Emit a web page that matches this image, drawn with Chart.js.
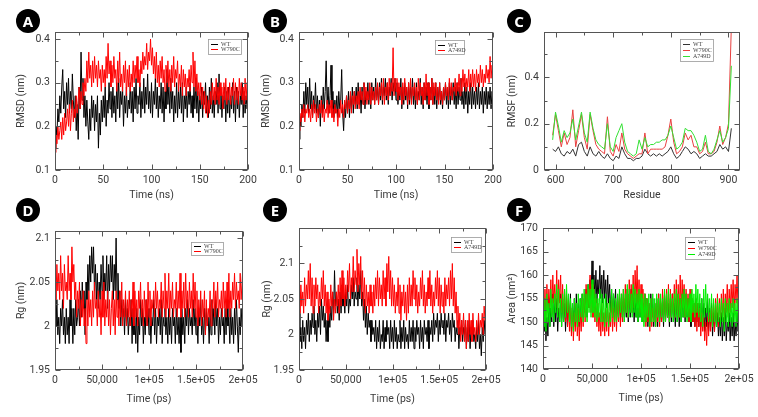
<!DOCTYPE html>
<html><head><meta charset="utf-8">
<script src="https://cdn.jsdelivr.net/npm/chart.js@4.4.1/dist/chart.umd.min.js"></script>
<style>
html,body{margin:0;padding:0;background:#fff}
#wrap{position:relative;width:758px;height:417px;overflow:hidden;background:#fff}
canvas.pc{position:absolute;left:0;top:0}
.lab{position:absolute;width:24px;height:24px;border-radius:50%;background:#000;color:#fff;font:bold 15px "Noto Sans",Arial,sans-serif;text-align:center;line-height:24px}
</style></head>
<body><div id="wrap">
<canvas id="cA" class="pc" width="758" height="417"></canvas>
<canvas id="cB" class="pc" width="758" height="417"></canvas>
<canvas id="cC" class="pc" width="758" height="417"></canvas>
<canvas id="cD" class="pc" width="758" height="417"></canvas>
<canvas id="cE" class="pc" width="758" height="417"></canvas>
<canvas id="cF" class="pc" width="758" height="417"></canvas>
<div class="lab" style="left:16px;top:9px">A</div>
<div class="lab" style="left:263px;top:9px">B</div>
<div class="lab" style="left:507px;top:9px">C</div>
<div class="lab" style="left:16px;top:198px">D</div>
<div class="lab" style="left:263px;top:198px">E</div>
<div class="lab" style="left:507px;top:198px">F</div>
</div>
<script>
// ---------- DATA ----------
const STEP_NS = 1;        // sampling interval of RMSD traces (ns)
const STEP_PS = 1000;     // sampling interval of Rg / SASA traces (ps)
const RES_START = 595, RES_STEP = 5;

// A: RMSD WT vs W790C (0..200 ns)
const rmsdA_WT = [
 0.15,0.20,0.18,0.24,0.21,0.27,0.23,0.29,0.33,0.24,0.28,0.22,0.30,0.25,0.31,0.23,0.28,0.24,0.32,0.26,
 0.22,0.27,0.19,0.25,0.17,0.29,0.24,0.37,0.26,0.31,0.22,0.27,0.20,0.26,0.21,0.17,0.24,0.19,0.27,0.22,
 0.26,0.19,0.25,0.21,0.27,0.15,0.23,0.18,0.26,0.21,0.27,0.22,0.29,0.20,0.26,0.23,0.30,0.24,0.28,0.22,
 0.29,0.23,0.27,0.21,0.30,0.24,0.31,0.22,0.28,0.25,0.29,0.20,0.27,0.23,0.29,0.22,0.26,0.24,0.30,0.23,
 0.28,0.21,0.29,0.24,0.31,0.23,0.27,0.25,0.30,0.22,0.28,0.24,0.31,0.23,0.29,0.25,0.32,0.24,0.28,0.23,
 0.30,0.22,0.28,0.25,0.31,0.24,0.29,0.22,0.27,0.24,0.30,0.23,0.29,0.21,0.28,0.24,0.33,0.25,0.29,0.23,
 0.31,0.24,0.28,0.21,0.27,0.23,0.30,0.22,0.28,0.24,0.29,0.23,0.30,0.21,0.27,0.24,0.29,0.22,0.28,0.25,
 0.30,0.23,0.27,0.22,0.29,0.24,0.31,0.23,0.28,0.21,0.27,0.24,0.29,0.22,0.28,0.25,0.30,0.23,0.27,0.22,
 0.29,0.24,0.31,0.23,0.27,0.22,0.28,0.25,0.30,0.23,0.32,0.24,0.28,0.22,0.27,0.24,0.29,0.21,0.28,0.23,
 0.29,0.22,0.27,0.24,0.30,0.23,0.28,0.21,0.29,0.24,0.28,0.22,0.27,0.25,0.30,0.22,0.28,0.23,0.27,0.24,
 0.26];
const rmsdA_W790C = [
 0.14,0.18,0.16,0.20,0.17,0.19,0.21,0.17,0.22,0.18,0.23,0.19,0.21,0.24,0.20,0.25,0.19,0.23,0.26,0.21,
 0.24,0.22,0.27,0.23,0.26,0.29,0.24,0.28,0.25,0.30,0.27,0.31,0.28,0.35,0.30,0.37,0.31,0.34,0.29,0.35,
 0.30,0.36,0.31,0.34,0.29,0.35,0.31,0.33,0.28,0.34,0.30,0.33,0.29,0.36,0.31,0.39,0.32,0.35,0.29,0.34,
 0.30,0.36,0.31,0.33,0.28,0.35,0.30,0.37,0.29,0.32,0.28,0.34,0.30,0.35,0.27,0.33,0.29,0.34,0.28,0.32,
 0.29,0.35,0.30,0.34,0.31,0.36,0.30,0.33,0.29,0.35,0.32,0.37,0.33,0.36,0.34,0.39,0.33,0.37,0.35,0.40,
 0.34,0.38,0.32,0.36,0.31,0.37,0.30,0.34,0.29,0.35,0.31,0.36,0.30,0.33,0.28,0.34,0.30,0.35,0.29,0.33,
 0.28,0.34,0.30,0.36,0.29,0.33,0.31,0.35,0.28,0.32,0.29,0.34,0.27,0.33,0.29,0.32,0.27,0.31,0.29,0.33,
 0.28,0.34,0.30,0.37,0.29,0.35,0.28,0.32,0.27,0.30,0.26,0.30,0.25,0.29,0.24,0.28,0.23,0.27,0.22,0.26,
 0.23,0.28,0.25,0.30,0.26,0.29,0.25,0.31,0.26,0.29,0.25,0.30,0.27,0.29,0.24,0.30,0.26,0.31,0.25,0.29,
 0.26,0.30,0.25,0.29,0.27,0.31,0.25,0.30,0.26,0.29,0.25,0.31,0.27,0.30,0.26,0.29,0.25,0.31,0.26,0.30,
 0.28];

// B: RMSD WT vs A749D (0..200 ns)
const rmsdB_WT = [
 0.17,0.22,0.20,0.25,0.22,0.28,0.23,0.30,0.25,0.29,0.23,0.31,0.24,0.28,0.22,0.27,0.24,0.30,0.23,0.27,
 0.22,0.26,0.20,0.27,0.23,0.29,0.24,0.28,0.35,0.25,0.29,0.23,0.27,0.34,0.24,0.28,0.22,0.26,0.23,0.27,
 0.22,0.28,0.24,0.26,0.33,0.23,0.19,0.25,0.22,0.27,0.23,0.28,0.22,0.27,0.24,0.29,0.23,0.28,0.25,0.29,
 0.24,0.30,0.25,0.28,0.23,0.29,0.25,0.30,0.24,0.28,0.26,0.30,0.25,0.29,0.24,0.30,0.26,0.29,0.25,0.31,
 0.26,0.29,0.25,0.30,0.26,0.31,0.25,0.29,0.27,0.31,0.26,0.30,0.25,0.29,0.27,0.31,0.26,0.30,0.28,0.31,
 0.26,0.30,0.25,0.29,0.26,0.31,0.24,0.29,0.25,0.30,0.26,0.29,0.24,0.30,0.25,0.29,0.26,0.31,0.25,0.29,
 0.24,0.30,0.25,0.28,0.26,0.31,0.25,0.29,0.24,0.30,0.26,0.29,0.25,0.30,0.24,0.29,0.26,0.31,0.25,0.29,
 0.25,0.30,0.24,0.29,0.26,0.30,0.25,0.28,0.24,0.29,0.26,0.30,0.25,0.29,0.24,0.30,0.25,0.29,0.26,0.30,
 0.25,0.29,0.24,0.30,0.25,0.29,0.26,0.31,0.25,0.28,0.24,0.30,0.25,0.29,0.23,0.28,0.25,0.30,0.24,0.29,
 0.25,0.28,0.24,0.29,0.25,0.30,0.24,0.28,0.25,0.29,0.23,0.28,0.25,0.29,0.24,0.28,0.25,0.29,0.24,0.28,
 0.26];
const rmsdB_A749D = [
 0.19,0.23,0.21,0.24,0.22,0.25,0.21,0.24,0.23,0.25,0.22,0.24,0.21,0.25,0.22,0.26,0.23,0.25,0.21,0.24,
 0.22,0.25,0.23,0.26,0.22,0.25,0.21,0.24,0.23,0.26,0.22,0.25,0.23,0.26,0.22,0.24,0.21,0.25,0.23,0.24,
 0.20,0.24,0.22,0.26,0.23,0.25,0.22,0.26,0.24,0.27,0.23,0.26,0.24,0.28,0.23,0.27,0.25,0.28,0.24,0.27,
 0.25,0.28,0.24,0.29,0.26,0.28,0.25,0.30,0.26,0.29,0.25,0.28,0.26,0.30,0.25,0.29,0.26,0.28,0.25,0.29,
 0.26,0.30,0.25,0.29,0.27,0.30,0.26,0.31,0.25,0.29,0.27,0.30,0.26,0.31,0.27,0.30,0.28,0.38,0.27,0.31,
 0.28,0.31,0.26,0.30,0.27,0.29,0.25,0.30,0.26,0.31,0.27,0.29,0.25,0.30,0.26,0.31,0.25,0.29,0.27,0.30,
 0.26,0.29,0.25,0.31,0.26,0.30,0.27,0.29,0.25,0.30,0.26,0.32,0.27,0.30,0.25,0.29,0.26,0.31,0.25,0.30,
 0.27,0.30,0.26,0.29,0.25,0.30,0.26,0.28,0.25,0.29,0.26,0.30,0.27,0.29,0.26,0.31,0.27,0.30,0.26,0.29,
 0.28,0.31,0.27,0.30,0.28,0.32,0.27,0.31,0.28,0.33,0.29,0.32,0.28,0.31,0.29,0.33,0.28,0.32,0.29,0.33,
 0.29,0.32,0.28,0.33,0.30,0.32,0.29,0.34,0.30,0.33,0.29,0.32,0.30,0.34,0.31,0.33,0.30,0.36,0.31,0.34,
 0.32];

// C: RMSF per residue (595..905, every 5th residue)
const rmsf_WT = [0.09,0.08,0.10,0.07,0.06,0.08,0.07,0.09,0.06,0.11,
 0.12,0.08,0.06,0.10,0.07,0.06,0.08,0.06,0.05,0.07,
 0.05,0.04,0.06,0.05,0.10,0.07,0.05,0.05,0.04,0.05,
 0.05,0.06,0.09,0.07,0.06,0.07,0.06,0.07,0.06,0.07,
 0.08,0.10,0.07,0.05,0.06,0.08,0.10,0.09,0.07,0.08,
 0.07,0.05,0.06,0.07,0.06,0.06,0.07,0.08,0.11,0.09,
 0.10,0.08,0.18];
const rmsf_W790C = [0.15,0.24,0.17,0.10,0.16,0.11,0.14,0.26,0.10,0.17,
 0.24,0.14,0.09,0.24,0.17,0.11,0.09,0.08,0.07,0.23,
 0.08,0.06,0.11,0.08,0.16,0.09,0.07,0.06,0.05,0.06,
 0.07,0.07,0.16,0.07,0.09,0.09,0.09,0.09,0.09,0.10,
 0.15,0.22,0.12,0.07,0.08,0.10,0.16,0.13,0.15,0.10,
 0.10,0.07,0.08,0.12,0.07,0.07,0.08,0.12,0.19,0.11,
 0.14,0.20,0.62];
const rmsf_A749D = [0.13,0.25,0.19,0.12,0.17,0.14,0.16,0.22,0.13,0.19,
 0.25,0.16,0.12,0.25,0.18,0.13,0.11,0.10,0.09,0.20,
 0.10,0.08,0.14,0.17,0.20,0.12,0.08,0.07,0.06,0.07,
 0.13,0.09,0.14,0.10,0.11,0.11,0.12,0.12,0.13,0.13,
 0.15,0.19,0.14,0.09,0.10,0.12,0.18,0.17,0.17,0.15,
 0.12,0.08,0.09,0.15,0.08,0.07,0.09,0.13,0.17,0.12,
 0.14,0.18,0.45];

// D: Rg WT vs W790C (0..200000 ps)
const rgD_WT = [
 2.02,2.00,2.03,1.99,2.01,1.98,2.02,2.00,2.03,1.99,2.01,1.98,2.02,1.99,2.01,1.98,2.03,2.00,2.02,1.98,
 2.02,1.99,2.03,2.00,2.01,2.03,2.00,2.04,2.01,2.05,2.02,2.04,1.99,2.05,2.03,2.07,2.04,2.08,2.05,2.09,
 2.06,2.09,2.04,2.07,2.03,2.06,2.02,2.05,2.03,2.07,2.04,2.08,2.03,2.06,2.04,2.08,2.02,2.07,2.04,2.08,
 2.05,2.08,2.03,2.07,2.04,2.10,2.03,2.06,2.02,2.04,2.00,2.03,2.01,2.02,1.99,2.03,2.00,2.02,1.99,2.01,
 2.00,2.03,1.98,2.02,1.99,2.01,1.98,2.02,1.97,2.01,1.99,2.03,2.00,2.02,1.98,2.01,1.99,2.03,2.00,2.02,
 1.99,2.02,1.98,2.01,2.00,2.03,1.99,2.02,1.98,2.01,2.00,2.02,1.99,2.03,1.98,2.01,2.00,2.02,1.99,2.01,
 1.98,2.02,1.99,2.01,1.98,2.02,2.00,2.01,1.98,2.02,1.99,2.01,1.98,2.01,1.97,2.02,1.99,2.01,1.98,2.02,
 2.00,2.03,1.99,2.02,2.00,2.01,1.99,2.03,2.00,2.02,1.99,2.01,1.98,2.02,2.00,2.03,1.99,2.01,1.98,2.02,
 1.99,2.02,2.00,2.01,1.98,2.02,1.99,2.03,2.00,2.02,1.99,2.03,2.00,2.02,1.98,2.01,1.99,2.02,2.00,2.01,
 1.98,2.02,1.99,2.03,2.00,2.01,1.98,2.02,1.99,2.01,1.98,2.02,1.99,2.03,2.00,1.97,2.01,1.99,2.02,2.00,
 2.02];
const rgD_W790C = [
 2.05,2.03,2.07,2.04,2.06,2.03,2.08,2.04,2.06,2.02,2.07,2.04,2.05,2.03,2.08,2.04,2.06,2.03,2.09,2.05,
 2.07,2.03,2.05,2.01,2.04,2.02,2.05,2.00,2.03,2.01,2.04,2.00,2.02,1.98,2.03,2.00,2.04,2.01,2.03,2.00,
 2.04,2.01,2.05,2.02,2.03,2.00,2.04,2.01,2.03,1.99,2.04,2.01,2.05,2.00,2.03,2.01,2.04,2.00,2.03,1.99,
 2.02,2.04,2.00,2.03,1.99,2.04,2.01,2.03,2.00,2.04,2.01,2.05,2.00,2.03,2.01,2.04,2.00,2.03,2.01,2.04,
 2.00,2.03,2.01,2.05,2.00,2.04,2.01,2.03,2.00,2.04,2.02,2.05,2.01,2.03,2.00,2.04,2.01,2.03,2.00,2.05,
 2.01,2.04,2.00,2.03,2.02,2.04,2.01,2.05,2.02,2.04,2.01,2.03,2.02,2.05,2.01,2.04,2.02,2.06,2.01,2.04,
 2.02,2.06,2.01,2.04,2.02,2.05,2.01,2.03,2.02,2.05,2.01,2.04,2.02,2.06,2.01,2.04,2.02,2.05,2.01,2.06,
 2.02,2.04,2.01,2.05,2.02,2.04,2.01,2.06,2.02,2.05,2.01,2.04,2.00,2.03,2.01,2.04,2.00,2.03,2.01,2.04,
 1.99,2.03,2.00,2.02,2.01,2.04,2.00,2.03,2.02,2.05,2.01,2.04,2.02,2.05,2.01,2.03,2.02,2.04,2.01,2.05,
 2.02,2.04,2.01,2.05,2.02,2.06,2.01,2.04,2.02,2.05,2.03,2.06,2.02,2.05,2.03,2.04,2.02,2.06,2.03,2.05,
 2.07];

// E: Rg WT vs A749D (0..200000 ps)
const rgE_WT = [
 2.03,1.99,2.01,1.98,2.02,1.99,2.01,1.98,2.02,2.00,2.03,1.99,2.02,2.00,2.03,2.01,2.04,2.00,2.02,1.99,
 2.03,2.01,2.04,2.00,2.05,2.02,2.04,2.01,2.03,1.99,2.02,1.99,2.03,2.01,2.04,2.02,2.06,2.03,2.09,2.04,
 2.06,2.03,2.05,2.02,2.06,2.03,2.07,2.04,2.05,2.03,2.06,2.04,2.07,2.03,2.05,2.04,2.07,2.05,2.08,2.04,
 2.06,2.05,2.08,2.04,2.07,2.05,2.09,2.04,2.06,2.02,2.05,2.01,2.04,2.00,2.03,2.01,2.02,1.99,2.02,2.00,
 2.01,1.99,2.02,1.98,2.01,1.99,2.02,1.98,2.00,1.99,2.02,1.98,2.01,1.99,2.02,2.00,2.01,1.98,2.02,1.99,
 2.01,1.98,2.02,1.99,2.01,1.98,2.00,1.99,2.02,1.98,2.01,1.99,2.02,1.98,2.01,1.99,2.00,1.98,2.02,1.99,
 2.01,1.99,2.02,1.98,2.01,1.99,2.02,2.00,2.01,1.98,2.02,1.99,2.01,1.98,2.02,2.00,2.01,1.99,2.02,1.98,
 2.01,2.00,2.02,1.99,2.03,2.00,2.02,2.01,2.03,1.99,2.02,2.00,2.03,2.01,2.02,2.00,2.03,1.99,2.02,2.01,
 2.03,2.00,2.02,1.99,2.03,2.01,2.02,1.99,2.01,2.00,2.02,1.98,2.01,2.00,2.02,1.99,2.01,2.00,2.02,1.98,
 2.01,1.99,2.02,1.98,2.01,2.00,2.02,1.99,2.00,1.98,2.01,1.99,2.02,1.98,2.00,1.97,2.01,1.99,2.02,2.00,
 2.01];
const rgE_A749D = [
 2.06,2.03,2.07,2.04,2.06,2.03,2.08,2.04,2.07,2.05,2.09,2.05,2.10,2.04,2.08,2.03,2.07,2.04,2.08,2.05,
 2.07,2.03,2.06,2.04,2.08,2.05,2.09,2.04,2.07,2.03,2.06,2.02,2.05,2.03,2.07,2.04,2.06,2.02,2.05,2.03,
 2.06,2.04,2.07,2.03,2.08,2.04,2.09,2.05,2.08,2.04,2.07,2.05,2.09,2.06,2.10,2.05,2.08,2.06,2.11,2.06,
 2.09,2.07,2.12,2.06,2.10,2.07,2.11,2.05,2.09,2.04,2.08,2.03,2.07,2.04,2.06,2.03,2.07,2.04,2.06,2.03,
 2.07,2.04,2.08,2.05,2.09,2.04,2.08,2.05,2.07,2.04,2.09,2.05,2.08,2.04,2.10,2.06,2.11,2.05,2.09,2.04,
 2.08,2.04,2.07,2.03,2.06,2.04,2.08,2.03,2.07,2.02,2.06,2.04,2.07,2.03,2.06,2.02,2.07,2.03,2.08,2.04,
 2.07,2.04,2.09,2.05,2.08,2.04,2.07,2.03,2.06,2.04,2.08,2.05,2.09,2.04,2.07,2.03,2.06,2.04,2.08,2.05,
 2.09,2.04,2.07,2.03,2.06,2.04,2.08,2.05,2.09,2.04,2.08,2.03,2.07,2.04,2.06,2.03,2.08,2.04,2.07,2.05,
 2.08,2.04,2.09,2.05,2.10,2.04,2.08,2.03,2.06,2.01,2.04,2.00,2.03,1.99,2.02,2.00,2.03,1.99,2.02,1.98,
 2.02,1.99,2.03,2.00,2.02,1.99,2.03,2.00,2.01,1.99,2.02,2.00,2.03,2.00,2.02,2.01,2.03,2.00,2.04,2.02,
 2.04];

// F: SASA (0..200000 ps)
const sasa_WT = [
 152,148,154,146,151,147,155,149,153,150,156,149,154,150,155,148,153,150,156,149,
 155,150,154,148,155,149,154,150,156,148,153,150,155,149,156,150,154,149,155,151,
 156,151,155,152,157,151,158,153,159,155,163,154,160,155,161,154,159,156,162,155,
 160,154,161,155,159,153,160,154,158,152,157,151,156,152,157,150,155,151,156,150,
 155,151,156,150,155,151,157,150,156,151,157,152,156,150,155,151,156,150,157,151,
 155,150,154,151,156,150,155,149,154,150,156,151,155,149,154,150,155,149,156,150,
 154,150,155,149,156,150,155,151,154,149,155,150,156,150,154,149,155,150,156,149,
 155,150,156,151,157,150,156,151,155,150,156,149,155,150,154,149,155,150,154,149,
 154,149,155,150,154,148,153,149,155,148,153,149,154,147,152,148,153,149,152,147,
 151,147,152,146,151,147,153,146,150,148,152,146,151,147,152,146,150,147,152,148,
 150];
const sasa_W790C = [
 155,150,157,151,158,152,157,153,159,152,160,154,158,153,161,152,159,154,160,152,
 158,151,157,150,156,149,155,148,154,147,153,146,152,148,154,147,153,146,152,148,
 155,149,156,150,158,152,157,153,160,152,158,151,157,150,155,149,154,148,152,147,
 154,148,152,147,153,148,154,147,152,149,155,148,153,149,154,148,155,150,156,149,
 156,150,157,151,158,152,157,151,159,153,158,152,160,153,161,154,162,153,159,152,
 158,151,157,150,156,149,155,150,154,148,155,149,153,150,154,149,155,150,156,149,
 155,150,157,151,156,150,157,151,158,150,157,151,156,152,158,151,159,152,158,151,
 160,152,159,153,158,151,157,152,156,150,157,151,155,150,154,149,155,148,154,149,
 153,147,152,148,151,146,150,145,151,147,152,148,153,149,154,148,155,150,156,149,
 155,150,156,151,157,150,156,152,158,151,157,152,158,153,159,152,158,154,160,153,
 159];
const sasa_A749D = [
 152,149,155,148,156,150,154,149,157,151,155,150,156,152,158,151,157,150,155,149,
 156,150,157,151,158,152,156,150,155,149,154,148,155,150,154,149,156,150,155,151,
 156,150,157,151,156,150,158,152,157,151,159,152,157,151,156,150,155,151,157,150,
 156,150,155,149,156,150,154,149,155,150,157,151,156,150,155,150,156,151,157,152,
 156,151,157,150,156,152,158,151,157,152,156,151,158,152,157,151,156,150,157,151,
 156,150,155,149,156,150,155,151,156,149,155,150,156,150,155,149,156,151,155,150,
 156,151,155,150,157,150,156,151,157,150,156,151,155,150,156,151,157,150,156,151,
 155,150,156,151,157,151,156,150,155,151,156,150,157,152,156,151,158,152,157,151,
 156,150,155,149,157,151,158,152,156,150,155,150,156,149,155,150,154,149,155,150,
 154,149,155,150,154,148,155,150,154,149,155,150,154,149,155,150,154,149,155,150,
 153];

// Tick values and labels
const nsTicks = [0, 50, 100, 150, 200];
const nsTickLabels = ['0', '50', '100', '150', '200'];
const psTicks = [0, 50000, 100000, 150000, 200000];
const psTickLabels = ['0', '50,000', '1e+05', '1.5e+05', '2e+05'];
const resTicks = [600, 700, 800, 900];
const resTickLabels = ['600', '700', '800', '900'];
const rmsdTicks = [0.1, 0.2, 0.3, 0.4];
const rmsdTickLabels = ['0.1', '0.2', '0.3', '0.4'];
const rmsfTicks = [0, 0.2, 0.4];
const rmsfTickLabels = ['0', '0.2', '0.4'];
const rgTicks = [1.95, 2, 2.05, 2.1];
const rgTickLabels = ['1.95', '2', '2.05', '2.1'];
const areaTicks = [140, 145, 150, 155, 160, 165, 170];
const areaTickLabels = ['140', '145', '150', '155', '160', '165', '170'];

// ---------- RENDERING ----------
const PAGE_W = 758, PAGE_H = 417;
const COL = {WT: '#000000', MUT: '#ff0000', A749D: '#00ee00'};
const COL_C = {WT: '#333333', W790C: '#e84040', A749D: '#33e033'};
const TXT = '#3a3a3a';
const FONT = 'Roboto, "Noto Sans", sans-serif';

const pts = (vals, x0, dx) => vals.map((v, i) => ({x: x0 + i * dx, y: v}));

const framePlugin = {
  id: 'frame',
  afterDatasetsDraw(chart, args, o) {
    const {ctx, chartArea: a, scales: {x, y}} = chart;
    ctx.save();
    ctx.strokeStyle = '#555'; ctx.lineWidth = 1;
    const L = Math.round(a.left) + 0.5, R = Math.round(a.right) - 0.5;
    const T = Math.round(a.top) + 0.5, B = Math.round(a.bottom) - 0.5;
    ctx.beginPath();
    const tick = (px, len, horiz) => {
      const p = Math.round(px) + 0.5;
      if (horiz) { ctx.moveTo(p, B); ctx.lineTo(p, B - len); ctx.moveTo(p, T); ctx.lineTo(p, T + len); }
      else { ctx.moveTo(L, p); ctx.lineTo(L + len, p); ctx.moveTo(R, p); ctx.lineTo(R - len, p); }
    };
    const doAxis = (sc, horiz) => {
      const v = sc.ticks.map(t => t.value);
      v.forEach(t => tick(sc.getPixelForValue(t), 5, horiz));
      for (let i = 0; i < v.length - 1; i++) tick(sc.getPixelForValue((v[i] + v[i + 1]) / 2), 3, horiz);
      const d = v[1] - v[0];
      [v[0] - d / 2, v[v.length - 1] + d / 2].forEach(m => { if (m > sc.min && m < sc.max) tick(sc.getPixelForValue(m), 3, horiz); });
    };
    doAxis(x, true); doAxis(y, false);
    ctx.stroke();
    ctx.strokeRect(L, T, R - L, B - T);
    // legend
    const lg = o.legend;
    const n = chart.data.datasets.length;
    const bx = Math.round(a.right - lg.gapR - lg.w), by = Math.round(a.top + lg.gapT);
    ctx.fillStyle = '#fff'; ctx.fillRect(bx, by, lg.w, lg.h);
    ctx.strokeStyle = '#999'; ctx.lineWidth = 0.8; ctx.strokeRect(bx + 0.5, by + 0.5, lg.w, lg.h);
    const rowH = (lg.h - 4) / n;
    ctx.font = '6px "Liberation Serif", serif'; ctx.textBaseline = 'middle';
    chart.data.datasets.forEach((ds, i) => {
      const ly = by + 2 + rowH * (i + 0.5);
      ctx.strokeStyle = ds.borderColor; ctx.lineWidth = 1;
      ctx.beginPath(); ctx.moveTo(bx + 3, Math.round(ly) + 0.5); ctx.lineTo(bx + 10, Math.round(ly) + 0.5); ctx.stroke();
      ctx.fillStyle = '#444'; ctx.fillText(ds.label, bx + 13, ly + 0.5);
    });
    ctx.restore();
  }
};

function panel(id, p) {
  const [L, R, T, B] = p.plot;
  new Chart(document.getElementById(id), {
    type: 'line',
    data: {datasets: p.datasets.map((d, i) => ({
      label: d.label, data: d.data, borderColor: d.color, borderWidth: 1,
      pointRadius: 0, tension: 0, fill: false, order: p.datasets.length - i
    }))},
    plugins: [framePlugin],
    options: {
      responsive: false, animation: false, devicePixelRatio: 1, events: [],
      layout: {padding: {left: L - p.yW, right: PAGE_W - R, top: T, bottom: PAGE_H - B - p.xH}},
      plugins: {legend: {display: false}, tooltip: {enabled: false}, frame: {legend: p.legend}},
      scales: {
        x: {
          type: 'linear', min: p.xMin, max: p.xMax,
          afterBuildTicks: s => { s.ticks = p.xTicks.map(v => ({value: v})); },
          afterFit: s => { s.height = p.xH; },
          grid: {display: false, drawTicks: false}, border: {display: false},
          ticks: {padding: 4, autoSkip: false, maxRotation: 0, minRotation: 0, color: TXT,
            font: {family: FONT, size: 10.5}, callback: (v, i) => p.xLabels[i]},
          title: {display: true, text: p.xTitle, color: TXT, padding: 0, font: {family: FONT, size: 10.5}}
        },
        y: {
          type: 'linear', min: p.yMin, max: p.yMax,
          afterBuildTicks: s => { s.ticks = p.yTicks.map(v => ({value: v})); },
          afterFit: s => { s.width = p.yW; },
          grid: {display: false, drawTicks: false}, border: {display: false},
          ticks: {padding: 5, autoSkip: false, color: TXT,
            font: {family: FONT, size: 10.5}, callback: (v, i) => p.yLabels[i]},
          title: {display: true, text: p.yTitle, color: TXT, padding: 0, font: {family: FONT, size: 10.5}}
        }
      }
    }
  });
}

panel('cA', {plot: [55, 248, 32, 170], yW: 40, xH: 32,
  xMin: 0, xMax: 200, xTicks: nsTicks, xLabels: nsTickLabels,
  yMin: 0.1, yMax: 0.416, yTicks: rmsdTicks, yLabels: rmsdTickLabels,
  xTitle: 'Time (ns)', yTitle: 'RMSD (nm)',
  legend: {gapR: 7, gapT: 7, w: 33, h: 15},
  datasets: [
    {label: 'WT', color: COL.WT, data: pts(rmsdA_WT, 0, STEP_NS)},
    {label: 'W790C', color: COL.MUT, data: pts(rmsdA_W790C, 0, STEP_NS)}]});

panel('cB', {plot: [299, 493, 32, 170], yW: 39, xH: 32,
  xMin: 0, xMax: 200, xTicks: nsTicks, xLabels: nsTickLabels,
  yMin: 0.1, yMax: 0.416, yTicks: rmsdTicks, yLabels: rmsdTickLabels,
  xTitle: 'Time (ns)', yTitle: 'RMSD (nm)',
  legend: {gapR: 29, gapT: 8, w: 29, h: 14},
  datasets: [
    {label: 'WT', color: COL.WT, data: pts(rmsdB_WT, 0, STEP_NS)},
    {label: 'A749D', color: COL.MUT, data: pts(rmsdB_A749D, 0, STEP_NS)}]});

panel('cC', {plot: [544, 740, 32, 170], yW: 38, xH: 32,
  xMin: 580, xMax: 920, xTicks: resTicks, xLabels: resTickLabels,
  yMin: 0, yMax: 0.596, yTicks: rmsfTicks, yLabels: rmsfTickLabels,
  xTitle: 'Residue', yTitle: 'RMSF (nm)',
  legend: {gapR: 27, gapT: 7, w: 33, h: 22},
  datasets: [
    {label: 'WT', color: COL_C.WT, data: pts(rmsf_WT, RES_START, RES_STEP)},
    {label: 'W790C', color: COL_C.W790C, data: pts(rmsf_W790C, RES_START, RES_STEP)},
    {label: 'A749D', color: COL_C.A749D, data: pts(rmsf_A749D, RES_START, RES_STEP)}]});

panel('cD', {plot: [55, 243, 231, 370], yW: 40, xH: 36,
  xMin: 0, xMax: 200000, xTicks: psTicks, xLabels: psTickLabels,
  yMin: 1.95, yMax: 2.108, yTicks: rgTicks, yLabels: rgTickLabels,
  xTitle: 'Time (ps)', yTitle: 'Rg (nm)',
  legend: {gapR: 20, gapT: 11, w: 32, h: 13},
  datasets: [
    {label: 'WT', color: COL.WT, data: pts(rgD_WT, 0, STEP_PS)},
    {label: 'W790C', color: COL.MUT, data: pts(rgD_W790C, 0, STEP_PS)}]});

panel('cE', {plot: [299, 486, 228, 370], yW: 38, xH: 36,
  xMin: 0, xMax: 200000, xTicks: psTicks, xLabels: psTickLabels,
  yMin: 1.95, yMax: 2.15, yTicks: rgTicks, yLabels: rgTickLabels,
  xTitle: 'Time (ps)', yTitle: 'Rg (nm)',
  legend: {gapR: 5, gapT: 9, w: 30, h: 15},
  datasets: [
    {label: 'WT', color: COL.WT, data: pts(rgE_WT, 0, STEP_PS)},
    {label: 'A749D', color: COL.MUT, data: pts(rgE_A749D, 0, STEP_PS)}]});

panel('cF', {plot: [543, 739, 228, 369], yW: 37, xH: 36,
  xMin: 0, xMax: 200000, xTicks: psTicks, xLabels: psTickLabels,
  yMin: 140, yMax: 170, yTicks: areaTicks, yLabels: areaTickLabels,
  xTitle: 'Time (ps)', yTitle: 'Area (nm²)',
  legend: {gapR: 25, gapT: 9, w: 29, h: 22},
  datasets: [
    {label: 'WT', color: COL.WT, data: pts(sasa_WT, 0, STEP_PS)},
    {label: 'W790C', color: COL.MUT, data: pts(sasa_W790C, 0, STEP_PS)},
    {label: 'A749D', color: COL.A749D, data: pts(sasa_A749D, 0, STEP_PS)}]});
</script>
</body></html>
